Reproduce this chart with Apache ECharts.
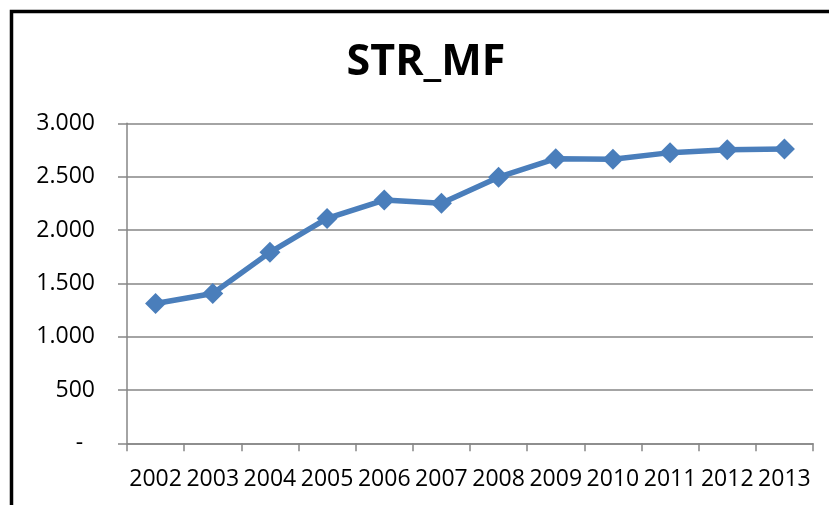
<!DOCTYPE html>
<html>
<head>
<meta charset="utf-8">
<script src="https://cdn.jsdelivr.net/npm/echarts@6/dist/echarts.min.js"></script>
<style>
html,body{margin:0;padding:0;background:#fff;}
#chart{width:829px;height:505px;}
</style>
</head>
<body>
<div id="chart"></div>
<script>
const title = 'STR_MF';
const years = ['2002','2003','2004','2005','2006','2007','2008','2009','2010','2011','2012','2013'];
const strMF = [1310, 1405, 1790, 2108, 2280, 2250, 2495, 2668, 2662, 2725, 2752, 2760];
const yMin = 0, yMax = 3000, yStep = 500;

function fmt(v){
  if (v === 0) return '-  ';
  return String(v).replace(/\B(?=(\d{3})+(?!\d))/g, '.');
}

const chart = echarts.init(document.getElementById('chart'), null, {renderer:'canvas'});
const FONT = '"Open Sans", "Liberation Sans", sans-serif';
chart.setOption({
  animation: false,
  backgroundColor: '#ffffff',
  graphic: [
    {type:'rect', shape:{x:11.5, y:11.5, width:900, height:600}, style:{fill:null, stroke:'#000', lineWidth:3.5}, z:100},
    {type:'text', x:426, y:62.5, style:{text:title, font:'bold 43px ' + FONT, fill:'#000', textAlign:'center', textVerticalAlign:'middle'}}
  ],
  grid: {left:127, right:16, top:123.3, bottom:61.7, containLabel:false},
  xAxis: {
    type:'category', data: years, boundaryGap:true,
    axisLine:{show:true, lineStyle:{color:'#868686', width:1.5}},
    axisTick:{show:true, length:8, alignWithLabel:false, lineStyle:{color:'#868686', width:1.5}},
    axisLabel:{color:'#000', fontFamily:FONT, fontSize:23, margin:25, interval:0},
    splitLine:{show:false}
  },
  yAxis: {
    type:'value', min:yMin, max:yMax, interval:yStep,
    axisLine:{show:true, lineStyle:{color:'#868686', width:1.5}},
    axisTick:{show:true, length:9, lineStyle:{color:'#868686', width:1.5}},
    axisLabel:{color:'#000', fontFamily:FONT, fontSize:23, margin:32, formatter:fmt},
    splitLine:{show:true, lineStyle:{color:'#868686', width:1.5}}
  },
  series: [{
    type:'line', data: strMF,
    symbol:'diamond', symbolSize:[21,21],
    lineStyle:{color:'#4a7ebb', width:5.5},
    itemStyle:{color:'#4a7ebb'},
    z:5
  }]
});
</script>
</body>
</html>
